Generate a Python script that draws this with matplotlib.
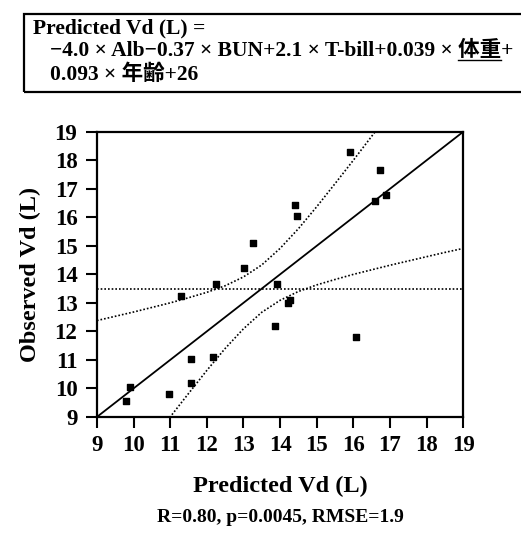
import numpy as np
import matplotlib.pyplot as plt
from matplotlib.patches import Rectangle
from matplotlib.lines import Line2D

# 予測値と実測値 (Vd, L)
predicted = np.array([11.30, 12.25, 13.01, 13.27, 13.92, 14.23, 14.27, 14.41, 14.46, 15.91, 16.72,
                      16.58, 16.88, 9.79, 9.89, 10.96, 11.56, 11.56, 12.16, 13.87, 16.08])
observed = np.array([13.25, 13.67, 14.22, 15.10, 13.67, 13.00, 13.10, 16.44, 16.06, 18.30, 17.67,
                     16.58, 16.78, 9.56, 10.05, 9.80, 11.03, 10.19, 11.09, 12.20, 11.80])

# 信頼曲線
upper_x = [9.0, 9.5, 10.0, 10.5, 11.0, 11.5, 12.0, 12.5, 13.0, 13.5, 14.0, 14.5, 15.0, 15.5, 16.0, 16.5, 17.0]
upper_y = [12.38, 12.53, 12.68, 12.84, 13.00, 13.18, 13.37, 13.60, 13.91, 14.33, 14.91, 15.60, 16.37,
           17.18, 18.00, 18.84, 19.68]
lower_x = [10.5, 11.0, 11.5, 12.0, 12.5, 13.0, 13.5, 14.0, 14.5, 15.0, 15.5, 16.0, 16.5, 17.0, 17.5,
           18.0, 18.5, 19.0]
lower_y = [8.16, 9.00, 9.82, 10.63, 11.40, 12.09, 12.67, 13.09, 13.40, 13.63, 13.82, 14.00, 14.16,
           14.32, 14.47, 14.62, 14.77, 14.91]

ticks = list(range(9, 20))

plt.rcParams['font.family'] = ['Liberation Serif', 'Noto Sans CJK JP']
plt.rcParams['font.weight'] = 'bold'

fig = plt.figure(figsize=(5.21, 5.38), dpi=100)
ax = fig.add_axes([0.186, 0.225, 0.703, 0.530])

ax.plot([9, 19], [9, 19], color='black', lw=1.3)
ax.axhline(np.mean(observed), color='black', lw=1.2, ls=(0, (1, 1.2)))
ax.plot(upper_x, upper_y, color='black', lw=1.2, ls=(0, (1, 1.2)))
ax.plot(lower_x, lower_y, color='black', lw=1.2, ls=(0, (1, 1.2)))
ax.scatter(predicted, observed, marker='s', s=22, color='black', zorder=3)

ax.set_xlim(9, 19)
ax.set_ylim(9, 19)
ax.set_xticks(ticks)
ax.set_yticks(ticks)
ax.tick_params(direction='out', length=8, width=1.5, labelsize=16.5, pad=5)
ax.tick_params(axis='y', pad=6)
for s in ax.spines.values():
    s.set_linewidth(1.6)

ax.set_xlabel('Predicted Vd (L)', fontsize=17.5, fontweight='bold', labelpad=14)
ax.set_ylabel('Observed Vd (L)', fontsize=17.5, fontweight='bold', labelpad=10)

# 回帰式の枠
fig.patches.append(Rectangle((24 / 521, 1 - 92 / 538), 1.0, 78 / 538, transform=fig.transFigure,
                             fill=False, lw=1.6, edgecolor='black'))
fs = 15.5
fig.text(33 / 521, 1 - 28 / 538, 'Predicted Vd (L) =', fontsize=fs, va='center')
prefix = '\u22124.0 \u00d7 Alb\u22120.37 \u00d7 BUN+2.1 \u00d7 T-bill+0.039 \u00d7 '
t2 = fig.text(50 / 521, 1 - 51 / 538, prefix + '体重+', fontsize=fs, va='center')
fig.text(50 / 521, 1 - 75 / 538, '0.093 \u00d7 年齢+26', fontsize=fs, va='center')

# 体重 の下線
fig.canvas.draw()
r = fig.canvas.get_renderer()
tp = fig.text(0, 0, prefix, fontsize=fs, alpha=0)
tw = fig.text(0, 0, prefix + '体重', fontsize=fs, alpha=0)
x0 = t2.get_window_extent(r).x0
x_a = x0 + tp.get_window_extent(r).width
x_b = x0 + tw.get_window_extent(r).width
yb = t2.get_window_extent(r).y0 + 1
fig.add_artist(Line2D([x_a / fig.bbox.width, x_b / fig.bbox.width],
                      [yb / fig.bbox.height] * 2, transform=fig.transFigure, color='black', lw=1))

fig.text(0.5 + 20 / 521, 1 - 518 / 538, 'R=0.80, p=0.0045, RMSE=1.9', fontsize=14,
         ha='center', va='center')

fig.savefig('out.png', dpi=100)
